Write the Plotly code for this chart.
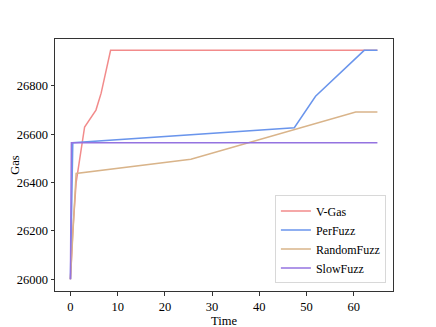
import plotly.graph_objects as go

vgas_t = [0, 0.5, 1.2, 3.0, 5.4, 6.5, 8.5, 65]
vgas_v = [26000, 26200, 26400, 26630, 26700, 26770, 26947, 26947]

perf_t = [0, 0.5, 47.4, 51.9, 62.2, 65]
perf_v = [26000, 26565, 26627, 26757, 26947, 26947]

rand_t = [0, 0.5, 1.05, 1.2, 25.5, 60.4, 65]
rand_v = [26000, 26190, 26397, 26438, 26497, 26692, 26692]

slow_t = [0, 0.2, 65]
slow_v = [26000, 26565, 26565]

names = ["V-Gas", "PerFuzz", "RandomFuzz", "SlowFuzz"]
colors = ["#F28B8B", "#6A95EC", "#D9B48A", "#9473E0"]

fig = go.Figure()
for name, t, v, c in zip(names, [vgas_t, perf_t, rand_t, slow_t],
                         [vgas_v, perf_v, rand_v, slow_v], colors):
    fig.add_trace(go.Scatter(x=t, y=v, mode="lines", name=name,
                             line=dict(color=c, width=1.5)))

font = dict(family="Liberation Serif, Times New Roman, serif", size=12.5, color="black")
fig.update_layout(
    width=436, height=327,
    margin=dict(l=47, r=51, t=31, b=44),
    paper_bgcolor="white", plot_bgcolor="white",
    font=font,
    showlegend=True,
    legend=dict(x=0.979, y=0.03, xanchor="right", yanchor="bottom",
                bgcolor="rgba(255,255,255,0.85)", bordercolor="#d8d8d8", borderwidth=1,
                font=dict(family="Liberation Serif, serif", size=12),
                tracegroupgap=0, itemwidth=30),
)
fig.update_xaxes(range=[-3.27, 68.3], tickvals=[0, 10, 20, 30, 40, 50, 60],
                 tickformat="d", automargin=False,
                 showgrid=False, zeroline=False, showline=True, linecolor="#333",
                 linewidth=1, mirror=True, ticks="outside", ticklen=3.5, tickcolor="#333",
                 title=dict(text="Time", standoff=1, font=font))
fig.update_yaxes(range=[25951.6, 26994], tickvals=[26000, 26200, 26400, 26600, 26800],
                 tickformat="d", automargin=False,
                 showgrid=False, zeroline=False, showline=True, linecolor="#333",
                 linewidth=1, mirror=True, ticks="outside", ticklen=3.5, tickcolor="#333",
                 title=dict(text="Gas", standoff=12, font=font))

fig.write_html("out.html")
